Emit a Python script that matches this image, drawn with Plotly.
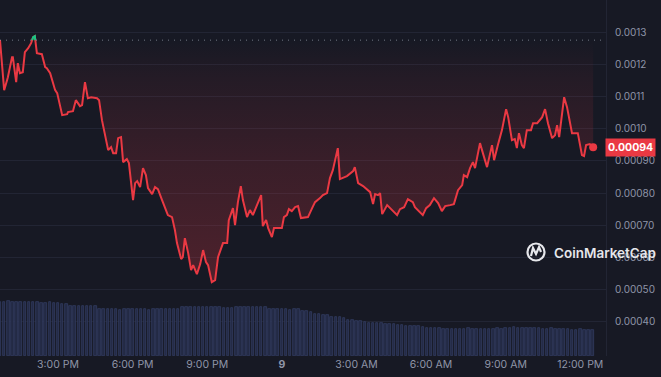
import pandas as pd
import plotly.graph_objects as go

# ---------------- data ----------------
start_time = "2024-03-08 12:40"

price_minutes = [
    0, 10, 17, 19, 29, 31, 39, 43, 48, 55, 60, 68, 75, 80, 84, 89, 101, 109, 113, 121,
    133, 138, 150, 162, 164, 176, 183, 193, 198, 205, 212, 220, 234, 239, 246, 256, 261, 268, 273, 280,
    285, 292, 297, 306, 311, 321, 326, 331, 338, 345, 352, 357, 367, 374, 381, 391, 398, 405, 415, 422,
    427, 437, 441, 446, 454, 461, 466, 475, 483, 490, 497, 502, 511, 519, 526, 538, 548, 552, 562, 567,
    574, 581, 586, 596, 603, 610, 620, 630, 634, 642, 647, 656, 661, 680, 685, 692, 697, 704, 712, 719,
    726, 743, 753, 760, 772, 779, 789, 796, 803, 815, 820, 837, 852, 856, 864, 876, 893, 900, 905, 912,
    917, 922, 934, 958, 965, 975, 984, 996, 1001, 1008, 1020, 1028, 1037, 1047, 1057, 1066, 1074, 1086, 1095, 1105,
    1115, 1119, 1127, 1134, 1141, 1146, 1158, 1165, 1175, 1187, 1192, 1201, 1211, 1221, 1226, 1235, 1242, 1247, 1252, 1259,
    1264, 1271, 1281, 1286, 1296, 1308, 1315, 1322, 1332, 1339, 1344, 1349, 1356, 1361, 1368, 1380, 1387, 1394, 1404, 1409,
    1414, 1423, 1431,
]

price_usd = [
    0.0012752, 0.0011199, 0.0011509, 0.0011603, 0.0012224, 0.0012224, 0.0011447, 0.0012037, 0.0011727, 0.0011758,
    0.0012379, 0.0012503, 0.0012658, 0.0012845, 0.0012876, 0.0012348, 0.0012317, 0.0011913, 0.0011882, 0.0011727,
    0.0011199, 0.0011106, 0.0010422, 0.0010453, 0.0010516, 0.0010547, 0.0010888, 0.0010702, 0.0010733, 0.0011447,
    0.0010950, 0.0010981, 0.0010950, 0.0010888, 0.0010267, 0.0009646, 0.0009336, 0.0009429, 0.0009242, 0.0009242,
    0.0009708, 0.0009739, 0.0008963, 0.0009056, 0.0008932, 0.0007783, 0.0008311, 0.0008373, 0.0008186, 0.0008776,
    0.0008559, 0.0008155, 0.0007969, 0.0008186, 0.0008124, 0.0007783, 0.0007565, 0.0007317, 0.0007255, 0.0006851,
    0.0006447, 0.0005950, 0.0006012, 0.0006602, 0.0006137, 0.0005609, 0.0005764, 0.0005485, 0.0005795, 0.0006230,
    0.0005857, 0.0005764, 0.0005236, 0.0005298, 0.0006012, 0.0006447, 0.0006447, 0.0007162, 0.0007534, 0.0007006,
    0.0007720, 0.0008219, 0.0007783, 0.0007255, 0.0007472, 0.0007317, 0.0007627, 0.0007938, 0.0006975, 0.0007162,
    0.0006913, 0.0006634, 0.0006913, 0.0006913, 0.0007255, 0.0007317, 0.0007503, 0.0007441, 0.0007565, 0.0007596,
    0.0007224, 0.0007255, 0.0007534, 0.0007720, 0.0007845, 0.0007938, 0.0008000, 0.0008466, 0.0008714, 0.0009398,
    0.0008435, 0.0008528, 0.0008683, 0.0008807, 0.0008311, 0.0008219, 0.0008031, 0.0007658, 0.0007969, 0.0007938,
    0.0008000, 0.0007348, 0.0007627, 0.0007317, 0.0007503, 0.0007565, 0.0007814, 0.0007720, 0.0007565, 0.0007472,
    0.0007317, 0.0007534, 0.0007627, 0.0007845, 0.0007689, 0.0007441, 0.0007596, 0.0007627, 0.0007658, 0.0008093,
    0.0008250, 0.0008559, 0.0008497, 0.0008776, 0.0008963, 0.0008776, 0.0009553, 0.0009242, 0.0008807, 0.0009491,
    0.0009025, 0.0009491, 0.0009957, 0.0010609, 0.0010360, 0.0009646, 0.0009677, 0.0009398, 0.0009863, 0.0009491,
    0.0009398, 0.0009957, 0.0009957, 0.0010174, 0.0010174, 0.0010360, 0.0010609, 0.0010174, 0.0009708, 0.0009801,
    0.0010112, 0.0009739, 0.0010485, 0.0010981, 0.0010671, 0.0009863, 0.0009863, 0.0009863, 0.0009180, 0.0009149,
    0.0009491, 0.0009522, 0.0009429,
]

volume_minutes_step = 10  # one volume bar every 10 minutes
volume_musd = [
    2.72, 2.72, 2.73, 2.72, 2.72, 2.71, 2.72, 2.72, 2.72, 2.71,
    2.67, 2.67, 2.68, 2.67, 2.66, 2.58, 2.58, 2.50, 2.50, 2.51,
    2.50, 2.50, 2.49, 2.50, 2.33, 2.33, 2.34, 2.33, 2.33, 2.32,
    2.33, 2.33, 2.34, 2.33, 2.33, 2.33, 2.32, 2.33, 2.33, 2.34,
    2.33, 2.33, 2.33, 2.34, 2.45, 2.45, 2.46, 2.45, 2.45, 2.44,
    2.45, 2.45, 2.46, 2.45, 2.42, 2.42, 2.42, 2.45, 2.45, 2.46,
    2.45, 2.45, 2.44, 2.45, 2.45, 2.33, 2.33, 2.34, 2.33, 2.33,
    2.32, 2.33, 2.33, 2.25, 2.24, 2.22, 2.10, 2.08, 2.06, 2.04,
    1.97, 1.95, 1.93, 1.90, 1.82, 1.79, 1.77, 1.74, 1.69, 1.67,
    1.67, 1.66, 1.64, 1.60, 1.58, 1.58, 1.57, 1.55, 1.51, 1.50,
    1.50, 1.48, 1.43, 1.42, 1.42, 1.41, 1.38, 1.37, 1.37, 1.37,
    1.36, 1.37, 1.37, 1.38, 1.37, 1.37, 1.36, 1.37, 1.37, 1.37,
    1.38, 1.37, 1.42, 1.42, 1.43, 1.42, 1.42, 1.42, 1.41, 1.42,
    1.42, 1.37, 1.37, 1.38, 1.37, 1.37, 1.36, 1.37, 1.32, 1.32,
    1.33, 1.32, 1.32, 1.31,
]

y_tick_values = [0.0013, 0.0012, 0.0011, 0.0010, 0.0009, 0.0008, 0.0007, 0.0006, 0.0005, 0.0004]
y_tick_labels = ["0.0013", "0.0012", "0.0011", "0.0010", "0.00090", "0.00080",
                 "0.00070", "0.00060", "0.00050", "0.00040"]
x_tick_times = ["2024-03-08 15:00", "2024-03-08 18:00", "2024-03-08 21:00", "2024-03-09 00:00",
                "2024-03-09 03:00", "2024-03-09 06:00", "2024-03-09 09:00", "2024-03-09 12:00"]
x_tick_labels = ["3:00 PM", "6:00 PM", "9:00 PM", "<b>9</b>", "3:00 AM", "6:00 AM", "9:00 AM", "12:00 PM"]

# ---------------- build ----------------
t0 = pd.Timestamp(start_time)
times = [t0 + pd.Timedelta(minutes=m) for m in price_minutes]
vol_times = [t0 + pd.Timedelta(minutes=i * volume_minutes_step) for i in range(len(volume_musd))]
baseline = price_usd[0]

RED = "#ea3943"
GREEN = "#16c784"
BG = "#171924"
GRID = "#222534"
TICK = "#8f95a8"

# green segments where the price is above the opening (baseline)
gx, gy = [], []
for i in range(1, len(price_usd)):
    a, b = price_usd[i - 1], price_usd[i]
    ta, tb = times[i - 1], times[i]
    if a >= baseline or b >= baseline:
        if a < baseline <= b:
            f = (baseline - a) / (b - a)
            gx.append(None); gy.append(None)
            gx.append(ta + (tb - ta) * f); gy.append(baseline)
        elif a >= baseline and (not gx or gx[-1] != ta):
            gx.append(None); gy.append(None)
            gx.append(ta); gy.append(a)
        if b >= baseline:
            gx.append(tb); gy.append(b)
        else:
            f = (a - baseline) / (a - b)
            gx.append(ta + (tb - ta) * f); gy.append(baseline)

fig = go.Figure()

# volume bars (hidden overlay axis)
fig.add_trace(go.Bar(
    x=vol_times, y=volume_musd, yaxis="y2",
    width=volume_minutes_step * 60 * 1000 * 0.6,
    marker=dict(color="#232a44", line=dict(width=0.7, color="#353f66")),
    hoverinfo="skip",
))

# baseline (for fill)
fig.add_trace(go.Scatter(
    x=times, y=[baseline] * len(times), mode="lines",
    line=dict(width=0, color="rgba(0,0,0,0)"), hoverinfo="skip",
))
fig.add_trace(go.Scatter(
    x=times, y=[min(p, baseline) for p in price_usd], mode="lines",
    line=dict(width=0, color="rgba(0,0,0,0)"),
    fill="tonexty",
    fillgradient=dict(
        type="vertical",
        start=min(price_usd), stop=baseline,
        colorscale=[[0, "rgba(234,57,67,0.26)"], [0.5, "rgba(234,57,67,0.16)"],
                    [0.85, "rgba(234,57,67,0.06)"], [1, "rgba(234,57,67,0.0)"]],
    ),
    hoverinfo="skip",
))

# price line
fig.add_trace(go.Scatter(
    x=times, y=price_usd, mode="lines",
    line=dict(color=RED, width=2), hoverinfo="skip",
))
fig.add_trace(go.Scatter(
    x=gx, y=gy, mode="lines", connectgaps=False,
    line=dict(color=GREEN, width=2), hoverinfo="skip",
))
# last point marker
fig.add_trace(go.Scatter(
    x=[times[-1]], y=[price_usd[-1]], mode="markers",
    marker=dict(color=RED, size=8), hoverinfo="skip",
))

x_end = t0 + pd.Timedelta(minutes=1462)

fig.update_layout(
    width=661, height=377,
    margin=dict(l=0, r=55, t=0, b=21),
    paper_bgcolor=BG, plot_bgcolor=BG,
    showlegend=False,
    bargap=0,
    font=dict(family="Inter, Roboto, sans-serif", color=TICK, size=10),
    xaxis=dict(
        range=[t0, x_end], showgrid=False, zeroline=False,
        tickvals=[pd.Timestamp(t) for t in x_tick_times], ticktext=x_tick_labels,
        tickfont=dict(size=10.5, color=TICK), ticks="", showline=False,
    ),
    yaxis=dict(
        range=[0.000294, 0.0014], side="right",
        tickvals=y_tick_values, ticktext=y_tick_labels,
        showgrid=True, gridcolor=GRID, gridwidth=1, zeroline=False,
        showline=True, linecolor=GRID, linewidth=1,
        ticks="outside", ticklen=6, tickcolor="rgba(0,0,0,0)",
        tickfont=dict(size=10, color=TICK),
    ),
    yaxis2=dict(range=[0, 17.8], overlaying="y", visible=False),
    shapes=[
        dict(type="line", xref="x", yref="y", x0=t0, x1=x_end, y0=baseline, y1=baseline,
             line=dict(color="rgba(190,196,212,0.55)", width=1, dash="1px,5px"), layer="above"),
        # CoinMarketCap logo
        dict(type="circle", xref="paper", yref="paper",
             xsizemode="pixel", ysizemode="pixel", xanchor=536 / 606, yanchor=1 - 252 / 356,
             x0=-8.5, x1=8.5, y0=-8.5, y1=8.5,
             line=dict(color="#e6e7eb", width=2.2), layer="above"),
        dict(type="path", xref="paper", yref="paper",
             xsizemode="pixel", ysizemode="pixel", xanchor=536 / 606, yanchor=1 - 252 / 356,
             path="M -5,-4 L -3,4 L 0,-2 L 3,5 L 5,0",
             line=dict(color="#e6e7eb", width=2.2), layer="above"),
    ],
    annotations=[
        dict(xref="paper", yref="y", x=1, y=price_usd[-1], xanchor="left", yanchor="middle",
             text=f"<b>{price_usd[-1]:.5f}</b>", showarrow=False,
             bgcolor=RED, font=dict(color="white", size=10.5, family="Inter, Roboto, sans-serif"),
             borderpad=2, xshift=-1),
        dict(xref="paper", yref="paper", x=552 / 606, y=1 - 253 / 356, xanchor="left", yanchor="middle",
             text="CoinMarketCap", showarrow=False,
             font=dict(color="#e6e7eb", size=13.5, family="Inter, Roboto, sans-serif", weight=600)),
    ],
)

fig.write_html("out.html", config={"displayModeBar": False},
               post_script="document.body.style.margin='0px';")
